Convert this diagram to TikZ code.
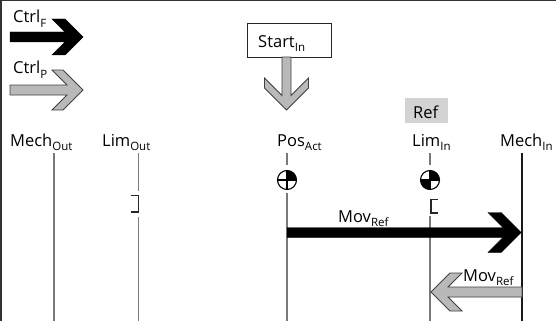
\documentclass[tikz,border=0pt]{standalone}
\usepackage{fontspec}
\usetikzlibrary{calc}
\setmainfont{Open Sans}
\newcommand\lbl[1]{\fontsize{16.5}{18}\selectfont #1}
\newcommand\subx[1]{\raisebox{-4.5pt}{\fontsize{11.5}{12}\selectfont #1}}
\definecolor{arrgray}{HTML}{B9B9B9}
\definecolor{refgray}{HTML}{D3D3D3}
\definecolor{linegray}{HTML}{7A7A7A}
\tikzset{
  pics/fatarrow/.style args={#1/#2/#3/#4}{code={
    \path[pic actions] (-#1,#2) -- (-#4-#2,#2) -- (-#3-#4,#3) -- (-#3,#3) -- (0,0)
      -- (-#3,-#3) -- (-#3-#4,-#3) -- (-#4-#2,-#2) -- (-#1,-#2) -- cycle;
  }},
  blackarrow/.style={fill=black, draw=black, line width=0.4pt, line join=miter},
  grayarrow/.style={fill=arrgray, draw=black!75, line width=0.8pt, line join=miter},
  txt/.style={anchor=base west, inner sep=0pt, font=\lbl},
  axisline/.style={draw=linegray, line width=1.1pt},
  bracketline/.style={draw=black!85, line width=1.6pt},
  symcircle/.style={line width=1.1pt}
}
\begin{document}
\begin{tikzpicture}[x=1pt,y=-1pt]
\useasboundingbox (0,0) rectangle (556,321);
% frame (top and left)
\draw[black!80, line width=1.2pt] (0,0.6) -- (556,0.6);
\draw[black!80, line width=1.2pt] (0.9,0) -- (0.9,321);

% legend
\node[txt] (ctrlf) at (13,23) {Ctrl\subx{F}};
\coordinate (ctrlftip) at (83,37);
\pic[blackarrow] at (ctrlftip) {fatarrow={73/5/18/13}};
\node[txt] (ctrlp) at (13,74) {Ctrl\subx{P}};
\coordinate (ctrlptip) at (83,90);
\pic[grayarrow] at (ctrlptip) {fatarrow={73/5/20/11}};

% Start box and arrow
\node[draw=black!85, line width=1pt, fill=white, minimum width=84pt, minimum height=33pt, inner sep=0pt] (start) at (289.5,40.5) {};
\node[txt] (starttxt) at (258,47.5) {Start\subx{In}};
\coordinate (starttip) at (286.5,110);
\pic[grayarrow, rotate=-90] at (starttip) {fatarrow={53/4.5/22/10}};

% Ref highlight
\node[fill=refgray, minimum width=43pt, minimum height=25pt, inner sep=0pt] (refbox) at (426.5,110.5) {};
\node[txt] (reftxt) at (413,118) {Ref};

% axis labels
\node[txt] (mechout) at (10,146) {Mech\subx{Out}};
\node[txt] (limout) at (102,146) {Lim\subx{Out}};
\node[txt] (posact) at (277,146) {Pos\subx{Act}};
\node[txt] (limin) at (412,146) {Lim\subx{In}};
\node[txt] (mechin) at (500,146) {Mech\subx{In}};

% coordinates for lines
\coordinate (mo1) at (54,153); \coordinate (mo2) at (54,321);
\coordinate (lo1) at (138.5,153); \coordinate (lo2) at (138.5,191);
\coordinate (lo3) at (138.5,217); \coordinate (lo4) at (138.5,321);
\coordinate (pa1) at (287,153); \coordinate (pa2) at (287,165);
\coordinate (pac) at (287,180);
\coordinate (pa3) at (287,193); \coordinate (pa4) at (287,321);
\coordinate (li1) at (430,153); \coordinate (li2) at (430,165);
\coordinate (lic) at (430,180);
\coordinate (li3) at (430,216); \coordinate (li4) at (430,321);
\coordinate (mi1) at (522,153); \coordinate (mi2) at (522,321);

\draw[axisline] (mo1) -- (mo2);
\draw[axisline] (lo1) -- (lo2);
\draw[axisline] (lo3) -- (lo4);
\draw[axisline] (pa1) -- (pa2);
\draw[axisline] (pa3) -- (pa4);
\draw[axisline] (li1) -- (li2);
\draw[axisline] (li3) -- (li4);
\draw[draw=black!90, line width=1.1pt] (mi1) -- (mi2);

% brackets
\coordinate (lob) at (138.5,195.5);
\draw[bracketline] ($(lob)+(-8,0)$) -- (lob) -- ++(0,16.5) -- ++(-8,0);
\coordinate (lib) at (431,199.5);
\draw[bracketline] ($(lib)+(7,0)$) -- (lib) -- ++(0,13.5) -- ++(7,0);

% position symbols
\fill[white] (pac) circle (9.5);
\fill[black] (pac) -- ++(9.5,0) arc[start angle=0, end angle=-90, radius=9.5] -- cycle;
\draw[symcircle] (pac) circle (9.5);
\draw[symcircle] ($(pac)+(-9.5,0)$) -- ($(pac)+(9.5,0)$);
\draw[symcircle] ($(pac)+(0,-9.5)$) -- ($(pac)+(0,9.5)$);

\fill[white] (lic) circle (9.5);
\fill[black] (lic) -- ++(9.5,0) arc[start angle=0, end angle=-90, radius=9.5] -- cycle;
\fill[black] (lic) -- ++(-9.5,0) arc[start angle=180, end angle=90, radius=9.5] -- cycle;
\draw[symcircle] (lic) circle (9.5);
\draw[symcircle] ($(lic)+(-9.5,0)$) -- ($(lic)+(9.5,0)$);
\draw[symcircle] ($(lic)+(0,-9.5)$) -- ($(lic)+(0,9.5)$);

% movement arrows
\node[txt] (movref1) at (338,222) {Mov\subx{Ref}};
\coordinate (mov1tip) at (521,232.5);
\pic[blackarrow] at (mov1tip) {fatarrow={234/5/20/13}};

\coordinate (mov2tip) at (431,292);
\pic[grayarrow, rotate=180] at (mov2tip) {fatarrow={91/5/19/12}};
\node[txt] (movref2) at (463,281) {Mov\subx{Ref}};
\end{tikzpicture}
\end{document}
